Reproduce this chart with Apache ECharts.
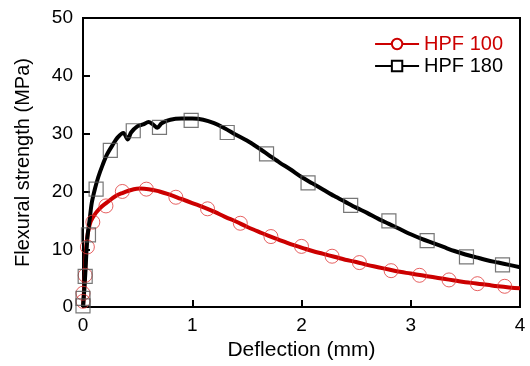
<!DOCTYPE html>
<html>
<head>
<meta charset="utf-8">
<script src="https://cdn.jsdelivr.net/npm/echarts@6/dist/echarts.min.js"></script>
<style>
  html, body { margin: 0; padding: 0; background: #fff; }
  #chart { width: 530px; height: 366px; }
</style>
</head>
<body>
<div id="chart"></div>
<script>
// HPF 100 curve (deflection mm, strength MPa)
var hpf100Line = [
  [0, 0], [0.01, 3], [0.02, 6.5], [0.03, 10.5], [0.06, 14.2], [0.1, 15.8], [0.15, 17.0],
  [0.22, 18.1], [0.3, 19.2], [0.37, 19.8], [0.45, 20.3], [0.52, 20.5], [0.6, 20.4],
  [0.7, 20.0], [0.8, 19.4], [0.9, 18.7], [1.0, 18.0], [1.1, 17.3], [1.2, 16.5],
  [1.3, 15.6], [1.4, 14.8], [1.5, 13.9], [1.6, 13.1], [1.7, 12.3], [1.8, 11.6],
  [1.9, 10.9], [2.0, 10.3], [2.1, 9.7], [2.2, 9.2], [2.3, 8.7], [2.4, 8.2],
  [2.5, 7.8], [2.6, 7.3], [2.7, 6.9], [2.8, 6.5], [2.9, 6.1], [3.0, 5.8],
  [3.1, 5.5], [3.2, 5.2], [3.3, 4.9], [3.4, 4.6], [3.5, 4.3], [3.6, 4.1],
  [3.7, 3.85], [3.8, 3.6], [3.9, 3.4], [4.0, 3.25]
];
var hpf100Marks = [
  [0, 1.0], [0, 2.4], [0.02, 5.5], [0.04, 10.4], [0.09, 14.7], [0.21, 17.5],
  [0.36, 20.0], [0.58, 20.4], [0.85, 19.0], [1.14, 17.0], [1.44, 14.5], [1.72, 12.2],
  [2.0, 10.5], [2.28, 8.8], [2.53, 7.7], [2.82, 6.3], [3.08, 5.5], [3.35, 4.7],
  [3.61, 4.05], [3.86, 3.6]
];
// HPF 180 curve
var hpf180Line = [
  [0, 0], [0.01, 2.5], [0.02, 5.5], [0.03, 9.0], [0.04, 12.0], [0.06, 15.0], [0.08, 18.0],
  [0.11, 20.5], [0.14, 22.5], [0.18, 24.6], [0.22, 26.4], [0.27, 28.0], [0.32, 29.4],
  [0.37, 30.1], [0.41, 29.0], [0.44, 30.2], [0.5, 31.3], [0.55, 31.6],
  [0.6, 32.0], [0.64, 31.6], [0.68, 31.0], [0.72, 31.8], [0.8, 32.4], [0.9, 32.6],
  [1.0, 32.6], [1.1, 32.4], [1.2, 31.8], [1.3, 30.9], [1.4, 29.8], [1.5, 28.8],
  [1.6, 27.6], [1.7, 26.3], [1.8, 25.0], [1.9, 23.8], [2.0, 22.5], [2.1, 21.4],
  [2.2, 20.3], [2.3, 19.2], [2.4, 18.2], [2.5, 17.2], [2.6, 16.3], [2.7, 15.3],
  [2.8, 14.4], [2.9, 13.5], [3.0, 12.6], [3.1, 11.8], [3.2, 11.1], [3.3, 10.4],
  [3.4, 9.7], [3.5, 9.1], [3.6, 8.6], [3.7, 8.1], [3.8, 7.7], [3.9, 7.3], [4.0, 6.9]
];
var hpf180Marks = [
  [0, 0.2], [0, 1.5], [0.02, 5.3], [0.05, 12.5], [0.12, 20.4], [0.25, 27.1],
  [0.46, 30.5], [0.7, 31.1], [0.99, 32.3], [1.32, 30.2], [1.68, 26.5], [2.06, 21.5],
  [2.45, 17.6], [2.8, 14.9], [3.15, 11.5], [3.51, 8.7], [3.84, 7.3]
];
var xTicks = [0, 1, 2, 3, 4];
var yTicks = [0, 10, 20, 30, 40, 50];

var font = 'Liberation Sans, Arial, sans-serif';
var chart = echarts.init(document.getElementById('chart'));
var option = {
  animation: false,
  grid: {
    left: 83, right: 10, top: 18, bottom: 52,
    show: true, borderColor: '#000', borderWidth: 2
  },
  legend: {
    right: 22, top: 29,
    orient: 'vertical',
    itemWidth: 44, itemHeight: 13, itemGap: 2,
    textStyle: { fontFamily: font, fontSize: 20 },
    data: [
      { name: 'HPF 100', textStyle: { color: '#cc0000' } },
      { name: 'HPF 180', textStyle: { color: '#000' } }
    ]
  },
  xAxis: {
    type: 'value', min: xTicks[0], max: xTicks[xTicks.length - 1], interval: 1,
    name: 'Deflection (mm)', nameLocation: 'middle', nameGap: 32,
    nameTextStyle: { fontFamily: font, fontSize: 21, color: '#000' },
    axisLine: { lineStyle: { color: '#000', width: 2 } },
    axisTick: { inside: true, length: 7, lineStyle: { color: '#000', width: 2 } },
    axisLabel: { fontFamily: font, fontSize: 19, color: '#000', margin: 9 },
    splitLine: { show: false }
  },
  yAxis: {
    type: 'value', min: yTicks[0], max: yTicks[yTicks.length - 1], interval: 10,
    name: 'Flexural strength (MPa)', nameLocation: 'middle', nameGap: 50,
    nameTextStyle: { fontFamily: font, fontSize: 20, color: '#000' },
    axisLine: { lineStyle: { color: '#000', width: 2 } },
    axisTick: { inside: true, length: 7, lineStyle: { color: '#000', width: 2 } },
    axisLabel: { fontFamily: font, fontSize: 19, color: '#000', margin: 10 },
    splitLine: { show: false }
  },
  series: [
    {
      name: 'HPF 100', type: 'line', data: hpf100Line, showSymbol: false,
      symbol: 'emptyCircle', symbolSize: 13, smooth: true,
      itemStyle: { color: '#cc0000' },
      lineStyle: { color: '#cc0000', width: 4 }
    },
    {
      name: 'HPF 180', type: 'line', data: hpf180Line, showSymbol: false,
      symbol: 'emptyRect', symbolSize: 13, smooth: 0.3,
      itemStyle: { color: '#000' },
      lineStyle: { color: '#000', width: 4 }
    },
    {
      name: 'm100', type: 'scatter', data: hpf100Marks, symbol: 'circle', symbolSize: 14, z: 5,
      itemStyle: { color: 'transparent', borderColor: '#e03a3a', borderWidth: 1 }
    },
    {
      name: 'm180', type: 'scatter', data: hpf180Marks, symbol: 'rect', symbolSize: 14, z: 5,
      itemStyle: { color: 'transparent', borderColor: '#555', borderWidth: 1.2 }
    }
  ]
};
chart.setOption(option);
</script>
</body>
</html>
